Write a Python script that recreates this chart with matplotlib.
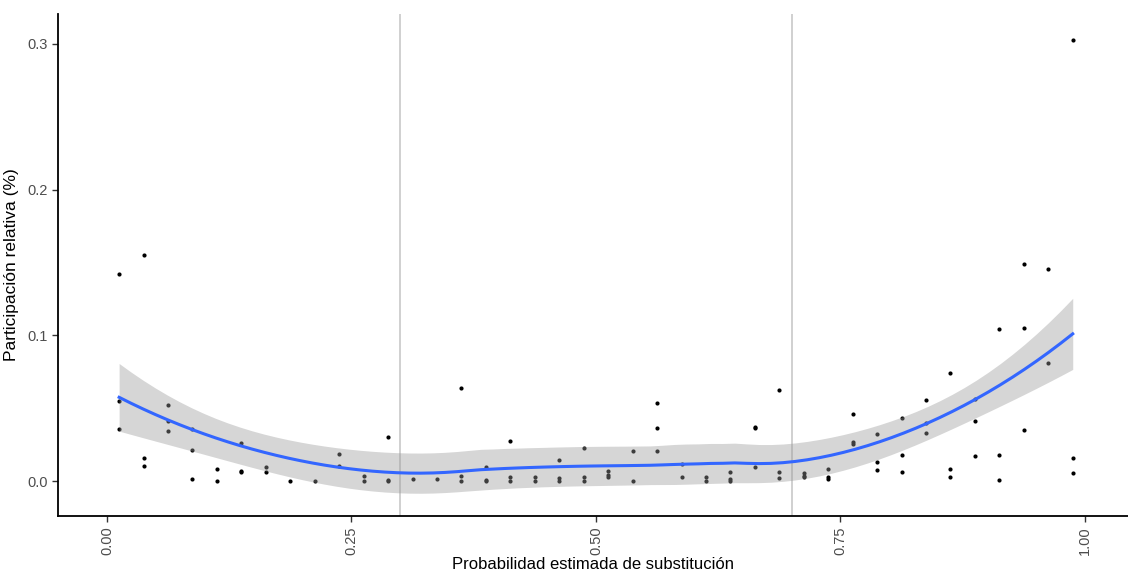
import matplotlib
matplotlib.use("Agg")
import matplotlib.pyplot as plt
import numpy as np

plt.rcParams['font.family'] = ['Liberation Sans', 'DejaVu Sans']

# ---------------- data ----------------
# probability bins: midpoints of 40 bins of width 0.025
bin_mid = [0.0125 + 0.025 * k for k in range(40)]
# relative share values observed in each bin
shares = [
    [0.142, 0.055, 0.036],
    [0.155, 0.016, 0.0105],
    [0.052, 0.041, 0.034],
    [0.036, 0.021, 0.0013],
    [0.008, 0.0],
    [0.026, 0.007, 0.006],
    [0.0096, 0.006],
    [0.0],
    [0.0],
    [0.0185, 0.010],
    [0.0034, 0.0],
    [0.030, 0.001, 0.0],
    [0.0014],
    [0.0014],
    [0.064, 0.0036, 0.0],
    [0.0094, 0.001, 0.0],
    [0.0274, 0.003, 0.0],
    [0.0025, 0.0002],
    [0.0144, 0.0024, 0.0002],
    [0.0226, 0.0025, 0.0002],
    [0.007, 0.004, 0.0025],
    [0.0208, 0.0002],
    [0.0536, 0.0365, 0.0208],
    [0.0116, 0.0025],
    [0.0025, 0.0],
    [0.0064, 0.0013, 0.0],
    [0.0365, 0.037, 0.0094],
    [0.0626, 0.0064, 0.0018],
    [0.0057, 0.0036, 0.0025],
    [0.008, 0.003, 0.0014],
    [0.0459, 0.0265, 0.0253],
    [0.0322, 0.013, 0.0075],
    [0.0434, 0.0176, 0.0062],
    [0.0555, 0.040, 0.033],
    [0.074, 0.008, 0.003],
    [0.056, 0.0415, 0.017],
    [0.104, 0.018, 0.001],
    [0.149, 0.105, 0.035],
    [0.1457, 0.0813],
    [0.303, 0.0158, 0.0057],
]
cut_points = [0.3, 0.7]

x = np.array([m for m, ys in zip(bin_mid, shares) for _ in ys])
y = np.array([v for ys in shares for v in ys])


def loess_weights(x, x0, span=0.75):
    # local quadratic fit with tricube weights -> row of the smoother matrix
    n = len(x)
    q = int(np.floor(n * span))
    d = np.abs(x - x0)
    h = np.sort(d)[q - 1]
    w = np.clip(1 - (d / h) ** 3, 0, None) ** 3
    X = np.column_stack([np.ones(n), x - x0, (x - x0) ** 2])
    XtW = X.T * w
    return np.linalg.solve(XtW @ X, XtW)[0]


# smoother at the data, to get the residual scale
L = np.array([loess_weights(x, xi) for xi in x])
resid = y - L @ y
M = np.eye(len(x)) - L
MtM = M.T @ M
delta1 = np.trace(MtM)
delta2 = np.trace(MtM @ MtM)
sigma = np.sqrt(np.sum(resid ** 2) / delta1)
df = delta1 ** 2 / delta2
z = 1.959964
tq = z + (z ** 3 + z) / (4 * df) + (5 * z ** 5 + 16 * z ** 3 + 3 * z) / (96 * df ** 2)

xs = np.linspace(x.min(), x.max(), 80)
Ls = np.array([loess_weights(x, xi) for xi in xs])
fit = Ls @ y
se = sigma * np.sqrt(np.sum(Ls ** 2, axis=1))

# ---------------- plot ----------------
fig = plt.figure(figsize=(11.28, 5.72), dpi=100)
ax = fig.add_axes([58 / 1128, 56 / 572, 1 - 58 / 1128, 502 / 572])

for c in cut_points:
    ax.axvline(c, color='#c4c4c4', linewidth=1.1, zorder=1)

ax.scatter(x, y, s=9, color='black', zorder=2, linewidths=0)
ax.fill_between(xs, fit - tq * se, fit + tq * se, color='#999999', alpha=0.4,
                linewidth=0, zorder=3)
ax.plot(xs, fit, color='#3366FF', linewidth=2.2, zorder=4)

ax.set_xlim(-0.05, 1.044)
ax.set_ylim(-0.024, 0.3205)
ax.set_xticks([0, 0.25, 0.5, 0.75, 1.0])
ax.set_xticklabels(['0.00', '0.25', '0.50', '0.75', '1.00'], rotation=90)
ax.set_yticks([0, 0.1, 0.2, 0.3])
ax.set_yticklabels(['0.0', '0.1', '0.2', '0.3'])
ax.tick_params(axis='both', labelsize=10.5, labelcolor='#4d4d4d', color='#333333',
               length=4, width=1)

for s in ['top', 'right']:
    ax.spines[s].set_visible(False)
for s in ['left', 'bottom']:
    ax.spines[s].set_linewidth(1.3)
    ax.spines[s].set_color('black')

ax.set_xlabel('Probabilidad estimada de substitución', fontsize=12, labelpad=1)
ax.set_ylabel('Participación relativa (%)', fontsize=12.5, labelpad=6)

fig.savefig('out.png', dpi=100)
